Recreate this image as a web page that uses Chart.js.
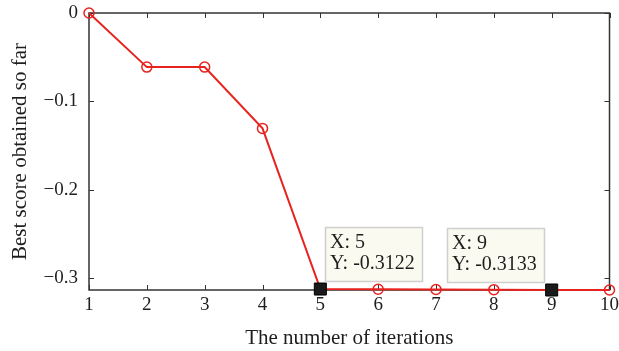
<!DOCTYPE html>
<html>
<head>
<meta charset="utf-8">
<script src="https://cdn.jsdelivr.net/npm/chart.js@4"></script>
<style>
  html, body { margin: 0; padding: 0; background: #fff; }
  #wrap { width: 619px; height: 351px; }
</style>
</head>
<body>
<div id="wrap"><canvas id="score"></canvas></div>
<script>
// data
const iterations = [1, 2, 3, 4, 5, 6, 7, 8, 9, 10];
const bestScore = [0, -0.0612, -0.0612, -0.1305, -0.3122, -0.3125, -0.3127, -0.3129, -0.3133, -0.3133];
const yTicks = [0, -0.1, -0.2, -0.3];
const tipIters = [5, 9];

// colors
const red = "#e8221e";
const axisColor = "#333333";
const textColor = "#1e1e1e";
const serif = "'Liberation Serif', 'Times New Roman', serif";

const points = iterations.map((x, i) => ({ x: x, y: bestScore[i] }));
const tips = tipIters.map((x) => ({ x: x, y: bestScore[iterations.indexOf(x)] }));

// box with inward ticks on all four sides
const frame = {
  id: "frame",
  beforeDatasetsDraw(chart) {
    const { ctx, chartArea: a, scales } = chart;
    const len = 5;
    ctx.save();
    ctx.strokeStyle = axisColor;
    ctx.lineWidth = 1.5;
    ctx.strokeRect(a.left, a.top, a.right - a.left, a.bottom - a.top);
    ctx.lineWidth = 1;
    ctx.beginPath();
    scales.x.ticks.forEach((t) => {
      const px = Math.round(scales.x.getPixelForValue(t.value)) + 0.5;
      ctx.moveTo(px, a.bottom); ctx.lineTo(px, a.bottom - len);
      ctx.moveTo(px, a.top); ctx.lineTo(px, a.top + len);
    });
    scales.y.ticks.forEach((t) => {
      const py = Math.round(scales.y.getPixelForValue(t.value)) + 0.5;
      ctx.moveTo(a.left, py); ctx.lineTo(a.left + len, py);
      ctx.moveTo(a.right, py); ctx.lineTo(a.right - len, py);
    });
    ctx.stroke();
    ctx.restore();
  },
};

// data tip boxes; a box flips to the left when it would leave the plot
const dataTips = {
  id: "dataTips",
  afterDatasetsDraw(chart) {
    const { ctx, chartArea: a } = chart;
    const meta = chart.getDatasetMeta(1);
    ctx.save();
    meta.data.forEach((el, i) => {
      const w = 97, h = 54;
      let left = Math.round(el.x) + 5;
      if (left + w > a.right) left = Math.round(el.x) - 8 - w;
      const top = Math.round(el.y) - 8 - h;
      ctx.fillStyle = "#fafaf0";
      ctx.fillRect(left, top, w, h);
      ctx.strokeStyle = "#cfcfcf";
      ctx.lineWidth = 1.5;
      ctx.strokeRect(left + 0.5, top + 0.5, w, h);
      ctx.fillStyle = textColor;
      ctx.font = "20px " + serif;
      ctx.textBaseline = "middle";
      ctx.fillText("X: " + tips[i].x, left + 5, top + 16);
      ctx.fillText("Y: " + tips[i].y.toFixed(4), left + 5, top + 37);
    });
    ctx.restore();
  },
};

const chart = new Chart(document.getElementById("score"), {
  type: "line",
  data: {
    datasets: [
      {
        data: points,
        order: 1,
        borderColor: red,
        borderWidth: 2,
        pointStyle: "circle",
        pointRadius: 5,
        pointBorderWidth: 1.5,
        pointBorderColor: red,
        pointBackgroundColor: "rgba(0,0,0,0)",
        tension: 0,
        clip: false,
      },
      {
        data: tips,
        order: 0,
        showLine: false,
        pointStyle: "rect",
        pointRadius: 8.5,
        pointBorderWidth: 1,
        pointBorderColor: "#000000",
        pointBackgroundColor: "#1a1a1a",
        clip: false,
      },
    ],
  },
  options: {
    responsive: true,
    maintainAspectRatio: false,
    animation: false,
    layout: { padding: { top: 13, right: 9, left: 0, bottom: 0 } },
    plugins: {
      legend: { display: false },
      tooltip: { enabled: false },
    },
    scales: {
      x: {
        type: "linear",
        min: 1,
        max: 10,
        grid: { display: false, drawTicks: false },
        border: { display: false },
        ticks: {
          stepSize: 1,
          padding: 4,
          color: textColor,
          font: { family: serif, size: 19 },
        },
        title: {
          display: true,
          text: "The number of iterations",
          color: textColor,
          font: { family: serif, size: 21 },
          padding: { top: 0, bottom: 0 },
        },
        afterFit: (scale) => {
          scale.height = 61;
          scale.paddingLeft = 0;
          scale.paddingRight = 0;
        },
      },
      y: {
        min: -0.3133,
        max: 0,
        grid: { display: false, drawTicks: false },
        border: { display: false },
        afterBuildTicks: (scale) => {
          scale.ticks = yTicks.map((v) => ({ value: v }));
        },
        ticks: {
          padding: 11,
          color: textColor,
          font: { family: serif, size: 19 },
          callback: (v) => (v === 0 ? "0" : "\u2212" + Math.abs(v).toFixed(1)),
        },
        title: {
          display: true,
          text: "Best score obtained so far",
          color: textColor,
          font: { family: serif, size: 21 },
          padding: { top: 8, bottom: 0 },
        },
        afterFit: (scale) => {
          scale.width = 89;
          scale.paddingTop = 0;
          scale.paddingBottom = 0;
        },
      },
    },
  },
  plugins: [frame, dataTips],
});
</script>
</body>
</html>
